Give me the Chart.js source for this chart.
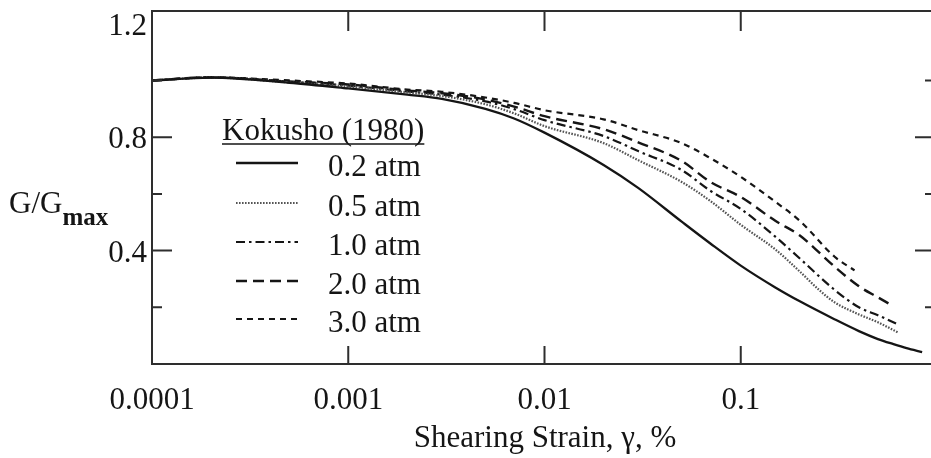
<!DOCTYPE html>
<html>
<head>
<meta charset="utf-8">
<script src="https://cdn.jsdelivr.net/npm/chart.js@4.4.1/dist/chart.umd.min.js"></script>
<style>
  html, body { margin: 0; padding: 0; background: #fff; overflow: hidden; width: 931px; height: 458px; }
  #wrap { position: absolute; left: 0; top: 0; width: 945px; height: 458px; }
  canvas { display: block; width: 945px; height: 458px; }
</style>
</head>
<body>
<div id="wrap"><canvas id="c" width="945" height="458"></canvas></div>
<script>
// Modulus reduction curves, G/Gmax vs shearing strain (%), Kokusho (1980)
const pressureLabels = ['0.2 atm', '0.5 atm', '1.0 atm', '2.0 atm', '3.0 atm'];

const strain02 = [0.0001, 0.0002, 0.0005, 0.001, 0.002, 0.003, 0.005, 0.007, 0.01, 0.02, 0.03, 0.05, 0.07, 0.1, 0.15, 0.2, 0.3, 0.4, 0.5, 0.6, 0.7, 0.84];
const g02      = [1.000, 1.010, 0.992, 0.972, 0.950, 0.935, 0.900, 0.866, 0.816, 0.702, 0.621, 0.502, 0.425, 0.347, 0.270, 0.221, 0.158, 0.116, 0.088, 0.070, 0.056, 0.042];

const strain05 = [0.0001, 0.0002, 0.0005, 0.001, 0.002, 0.003, 0.005, 0.007, 0.01, 0.02, 0.03, 0.05, 0.07, 0.1, 0.15, 0.2, 0.25, 0.3, 0.4, 0.5, 0.63];
const g05      = [1.000, 1.010, 0.993, 0.979, 0.958, 0.945, 0.916, 0.884, 0.839, 0.779, 0.719, 0.642, 0.575, 0.491, 0.404, 0.326, 0.262, 0.218, 0.175, 0.147, 0.112];

const strain10 = [0.0001, 0.0002, 0.0005, 0.001, 0.002, 0.003, 0.005, 0.007, 0.01, 0.02, 0.03, 0.05, 0.07, 0.1, 0.15, 0.2, 0.3, 0.4, 0.5, 0.63];
const g10      = [1.000, 1.011, 0.996, 0.982, 0.961, 0.950, 0.926, 0.899, 0.860, 0.804, 0.751, 0.684, 0.611, 0.547, 0.449, 0.372, 0.262, 0.200, 0.172, 0.140];

const strain20 = [0.0001, 0.0002, 0.0005, 0.001, 0.002, 0.003, 0.005, 0.007, 0.01, 0.02, 0.03, 0.05, 0.07, 0.1, 0.15, 0.2, 0.3, 0.4, 0.5, 0.575];
const g20      = [1.000, 1.011, 0.996, 0.986, 0.965, 0.955, 0.933, 0.908, 0.874, 0.828, 0.782, 0.716, 0.642, 0.589, 0.505, 0.453, 0.344, 0.274, 0.235, 0.211];

const strain30 = [0.0001, 0.0002, 0.0005, 0.001, 0.002, 0.003, 0.005, 0.007, 0.01, 0.02, 0.03, 0.05, 0.07, 0.1, 0.15, 0.2, 0.3, 0.38];
const g30      = [1.000, 1.011, 1.000, 0.989, 0.968, 0.960, 0.940, 0.921, 0.895, 0.863, 0.825, 0.779, 0.726, 0.660, 0.572, 0.505, 0.379, 0.330];

const xTickValues = [0.0001, 0.001, 0.01, 0.1, 1];
const xTickLabels = ['0.0001', '0.001', '0.01', '0.1', '1'];
const yTickValues = [0.4, 0.8, 1.2];
const yTickLabels = ['0.4', '0.8', '1.2'];
const yMarkValues = [0.2, 0.4, 0.6, 0.8, 1.0];

const SERIF = "'Liberation Serif', 'Times New Roman', serif";
const INK = '#151515';
const FONT_SIZE = 31;

function pairs(xs, ys) { return xs.map((v, i) => ({ x: v, y: ys[i] })); }

const seriesStyles = [
  { dash: [],               color: INK,    width: 2.3 },
  { dash: [1.6, 1.4],       color: '#555', width: 2.2 },
  { dash: [9, 4, 2.5, 4],   color: INK,    width: 2.2 },
  { dash: [11, 6],          color: INK,    width: 2.4 },
  { dash: [6, 5],           color: INK,    width: 2.2 }
];
const seriesData = [pairs(strain02, g02), pairs(strain05, g05), pairs(strain10, g10), pairs(strain20, g20), pairs(strain30, g30)];

const datasets = seriesData.map((d, i) => ({
  label: pressureLabels[i],
  data: d,
  borderColor: seriesStyles[i].color,
  borderWidth: seriesStyles[i].width,
  borderDash: seriesStyles[i].dash,
  pointRadius: 0,
  fill: false,
  cubicInterpolationMode: 'monotone'
}));

// Box frame plus inward tick marks on all four sides
const frameAndTicks = {
  id: 'frameAndTicks',
  afterDatasetsDraw(chart) {
    const { ctx, chartArea: a, scales: { x, y } } = chart;
    ctx.save();
    ctx.strokeStyle = '#2e2e2e';
    ctx.lineWidth = 2;
    ctx.strokeRect(a.left, a.top, a.right - a.left, a.bottom - a.top);
    ctx.beginPath();
    xTickValues.forEach(v => {
      const px = x.getPixelForValue(v);
      ctx.moveTo(px, a.bottom); ctx.lineTo(px, a.bottom - 18);
      ctx.moveTo(px, a.top);    ctx.lineTo(px, a.top + 20);
    });
    yMarkValues.forEach(v => {
      const py = y.getPixelForValue(v);
      const len = yTickValues.some(t => Math.abs(t - v) < 1e-9) ? 20 : 10;
      ctx.moveTo(a.left, py);  ctx.lineTo(a.left + len, py);
      ctx.moveTo(a.right, py); ctx.lineTo(a.right - len - 2, py);
    });
    ctx.stroke();
    ctx.restore();
  }
};

// Legend block inside the plot and the two axis titles
const annotations = {
  id: 'annotations',
  afterDraw(chart) {
    const { ctx } = chart;
    ctx.save();
    ctx.fillStyle = INK;
    ctx.textBaseline = 'alphabetic';

    // legend heading, underlined
    ctx.font = FONT_SIZE + 'px ' + SERIF;
    ctx.textAlign = 'left';
    const head = 'Kokusho (1980)';
    ctx.fillText(head, 222, 140);
    const hw = ctx.measureText(head).width;
    ctx.strokeStyle = INK;
    ctx.lineWidth = 1.6;
    ctx.beginPath(); ctx.moveTo(222, 144); ctx.lineTo(222 + hw, 144); ctx.stroke();

    const rows = [163, 203, 242, 281, 319];
    chart.data.datasets.forEach((ds, i) => {
      const yy = rows[i];
      ctx.save();
      ctx.strokeStyle = ds.borderColor;
      ctx.lineWidth = ds.borderWidth;
      ctx.setLineDash(ds.borderDash);
      ctx.beginPath(); ctx.moveTo(236, yy); ctx.lineTo(298, yy); ctx.stroke();
      ctx.restore();
      ctx.fillText(ds.label, 328, yy + 13);
    });

    // x axis title
    ctx.textAlign = 'center';
    ctx.fillText('Shearing Strain, \u03b3, %', 545, 447);

    // y axis title with subscript
    ctx.textAlign = 'left';
    ctx.fillText('G/G', 9, 213);
    const gw = ctx.measureText('G/G').width;
    ctx.font = 'bold 25px ' + SERIF;
    ctx.fillText('max', 9 + gw, 225);
    ctx.restore();
  }
};

new Chart(document.getElementById('c'), {
  type: 'line',
  data: { datasets },
  options: {
    responsive: false,
    animation: false,
    events: [],
    layout: { padding: { left: 0, right: 8, top: 11, bottom: 0 } },
    plugins: { legend: { display: false }, tooltip: { enabled: false } },
    scales: {
      x: {
        type: 'logarithmic',
        min: 0.0001,
        max: 1,
        afterFit: s => { s.height = 94; s.paddingLeft = 0; s.paddingRight = 0; },
        afterBuildTicks: s => { s.ticks = xTickValues.map(v => ({ value: v })); },
        grid: { display: false, drawTicks: false },
        border: { display: false },
        ticks: {
          autoSkip: false,
          maxRotation: 0,
          padding: 18,
          color: INK,
          font: { family: SERIF, size: FONT_SIZE },
          callback: v => { const i = xTickValues.findIndex(t => Math.abs(t - v) / t < 1e-6); return i >= 0 ? xTickLabels[i] : ''; }
        }
      },
      y: {
        type: 'linear',
        min: 0,
        max: 1.245,
        afterFit: s => { s.width = 152; s.paddingTop = 0; s.paddingBottom = 0; },
        afterBuildTicks: s => { s.ticks = yTickValues.map(v => ({ value: v })); },
        grid: { display: false, drawTicks: false },
        border: { display: false },
        ticks: {
          padding: 5,
          labelOffset: 3,
          color: INK,
          font: { family: SERIF, size: FONT_SIZE },
          callback: v => { const i = yTickValues.findIndex(t => Math.abs(t - v) < 1e-9); return i >= 0 ? yTickLabels[i] : ''; }
        }
      }
    }
  },
  plugins: [frameAndTicks, annotations]
});
</script>
</body>
</html>
